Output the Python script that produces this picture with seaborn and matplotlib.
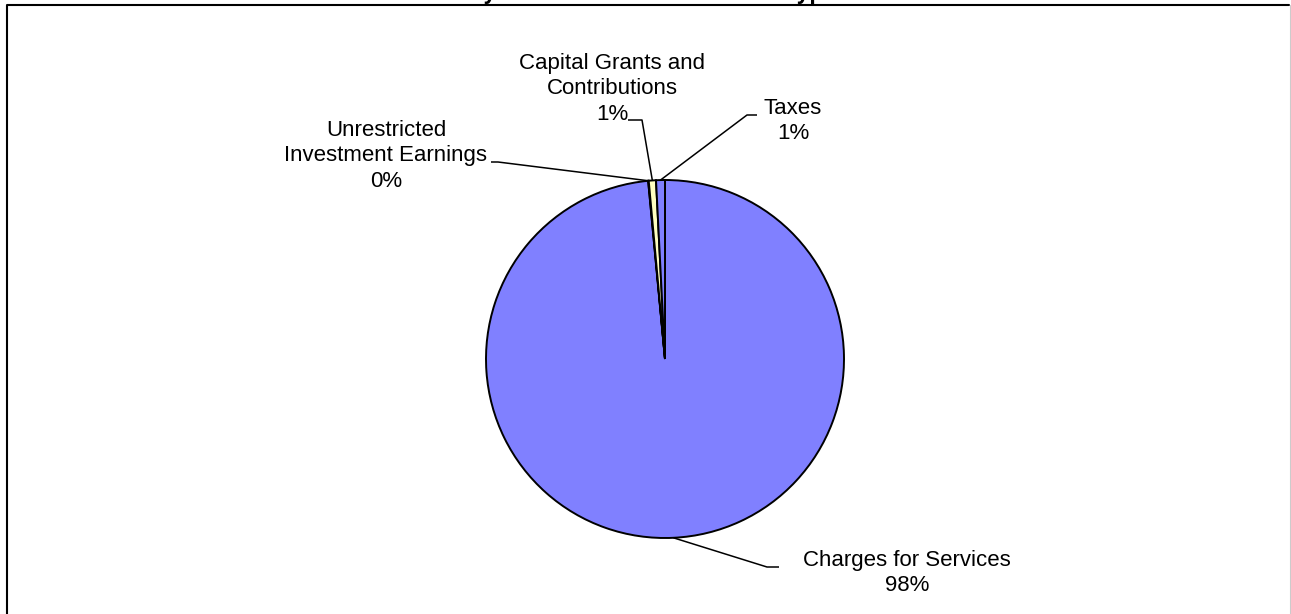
import matplotlib
matplotlib.use("Agg")
import matplotlib.pyplot as plt
import seaborn as sns
import numpy as np

# Revenue shares (percent)
categories = ["Charges for Services", "Unrestricted\nInvestment Earnings",
              "Capital Grants and\nContributions", "Taxes"]
shares = [98.5, 0.05, 0.65, 0.8]
pct_labels = ["98%", "0%", "1%", "1%"]
slice_colors = ["#8080FF", "#993366", "#FFFFC0", "#8080FF"]

title = "Summary of Revenues for Business-type Activities"

W, H = 1291, 614

sns.set_theme(style="white")
plt.rcParams['font.family'] = ['Liberation Sans', 'DejaVu Sans']

fig = plt.figure(figsize=(W / 100, H / 100), dpi=100)
ax = fig.add_axes([0, 0, 1, 1])

# pie drawn in pixel-like data units (y measured from bottom)
cx, cy, r = 665, H - 359, 179
wedges, _ = ax.pie(shares, colors=sns.color_palette(slice_colors), startangle=90,
                   counterclock=False, radius=r, center=(cx, cy),
                   wedgeprops=dict(edgecolor="black", linewidth=1.4))
ax.set_xlim(0, W)
ax.set_ylim(0, H)
ax.set_aspect("auto")
ax.axis("off")

# label layout in image coords: text centre, elbow start, elbow end
layout = {
    "Charges for Services": ((907, 573), (779, 567), (767, 567)),
    "Unrestricted\nInvestment Earnings": ((386, 156), (491, 162), (498, 162)),
    "Capital Grants and\nContributions": ((612, 89), (628, 120), (642, 120)),
    "Taxes": ((793, 121), (757, 115), (747, 115)),
}

for w, cat, pct in zip(wedges, categories, pct_labels):
    (tx, ty), (ax0, ay0), (ax1, ay1) = layout[cat]
    ang = np.deg2rad((w.theta1 + w.theta2) / 2)
    px, py = cx + r * np.cos(ang), cy + r * np.sin(ang)
    ax.plot([ax0, ax1, px], [H - ay0, H - ay1, py], color="black", lw=1.1,
            solid_capstyle="butt")
    ax.text(tx, H - ty, cat + "\n" + pct, ha="center", va="center",
            fontsize=16, color="black", linespacing=1.3)

# chart frame (bottom lies below the picture)
ax.plot([6.5, 6.5, 1289], [-10, H - 4.5, H - 4.5], color="black", lw=1.5,
        clip_on=False)
ax.plot([1290, 1290], [-10, H - 4.5], color="#cccccc", lw=0.8, clip_on=False)

# title sits above the frame, only its descenders show
fig.text(668 / W, 1 + 1.5 / H, title, ha="center", va="baseline",
         fontsize=16.4, fontweight="bold", color="black")

fig.savefig("out.png", dpi=100)
